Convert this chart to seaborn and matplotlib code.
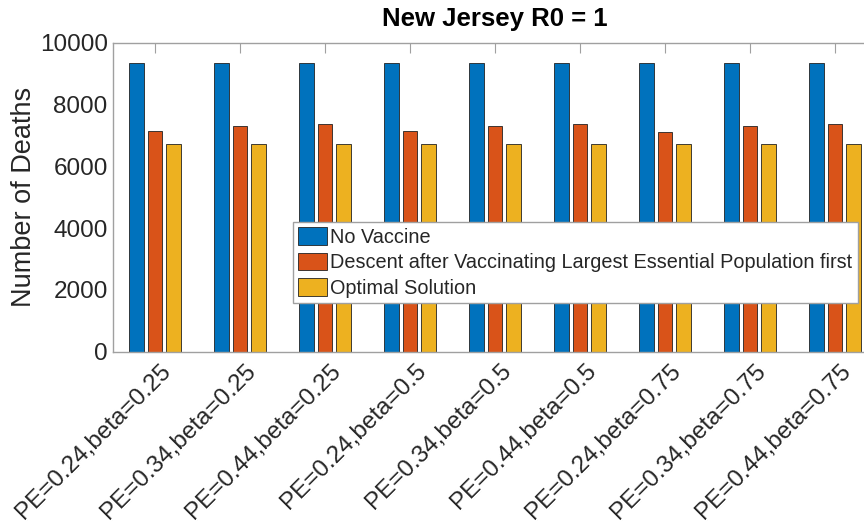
import numpy as np
import matplotlib
matplotlib.use("Agg")
import matplotlib.pyplot as plt
import matplotlib.transforms as mtransforms
import seaborn as sns
import pandas as pd

# scenario labels (x axis)
scenarios = ["PE=0.24,beta=0.25", "PE=0.34,beta=0.25", "PE=0.44,beta=0.25",
             "PE=0.24,beta=0.5", "PE=0.34,beta=0.5", "PE=0.44,beta=0.5",
             "PE=0.24,beta=0.75", "PE=0.34,beta=0.75", "PE=0.44,beta=0.75"]

series_names = ["No Vaccine",
                "Descent after Vaccinating Largest Essential Population first",
                "Optimal Solution"]

no_vaccine = [9330, 9330, 9330, 9330, 9330, 9330, 9330, 9330, 9330]
descent = [7130, 7300, 7385, 7130, 7300, 7380, 7120, 7290, 7375]
optimal = [6730, 6730, 6730, 6730, 6730, 6730, 6730, 6730, 6730]

colors = ["#0072BD", "#D95319", "#EDB120"]

df = pd.DataFrame({
    "scenario": scenarios * 3,
    "series": [series_names[0]] * 9 + [series_names[1]] * 9 + [series_names[2]] * 9,
    "deaths": no_vaccine + descent + optimal,
})

sns.set_style("white")
plt.rcParams['font.family'] = ['Liberation Sans', 'DejaVu Sans']

fig = plt.figure(figsize=(8.64, 5.29), dpi=100)
# axes runs a little past the right edge, like the cropped original
ax = fig.add_axes([112.5 / 864, 1 - 351.7 / 529, 765 / 864, 309 / 529])

sns.barplot(data=df, x="scenario", y="deaths", hue="series", palette=colors,
            width=0.66, gap=0.2, edgecolor="#222222", linewidth=0.6,
            saturation=1, ax=ax, errorbar=None)

ax.set_xlim(-0.5, 8.5)
ax.set_ylim(0, 10000)
ax.set_yticks([0, 2000, 4000, 6000, 8000, 10000])
ax.set_xlabel("")
ax.set_ylabel("Number of Deaths", fontsize=19.5, color="#262626", labelpad=2)
ax.set_title("New Jersey R0 = 1", fontsize=18.5, fontweight="bold", pad=12,
             color="black")

axis_grey = "#a0a0a0"
for s in ax.spines.values():
    s.set_visible(True)
    s.set_color(axis_grey)
    s.set_linewidth(1.0)
ax.tick_params(axis="both", direction="in", length=7, color=axis_grey,
               labelcolor="#262626", top=True, right=True)
ax.tick_params(axis="y", labelsize=17.5)
ax.tick_params(axis="x", labelsize=17.5, pad=6)
shift = mtransforms.ScaledTranslation(5 / 100, 0, fig.dpi_scale_trans)
for lab in ax.get_xticklabels():
    lab.set_rotation(45)
    lab.set_ha("right")
    lab.set_rotation_mode("anchor")
    lab.set_transform(lab.get_transform() + shift)

handles, labels = ax.get_legend_handles_labels()
ax.legend(handles, labels, loc="upper left",
          bbox_to_anchor=(292.7 / 864, 1 - 222 / 529),
          bbox_transform=fig.transFigure, fontsize=14.3, frameon=True,
          fancybox=False, framealpha=1, edgecolor=axis_grey,
          handlelength=1.5, handleheight=1.0, handletextpad=0.15,
          labelspacing=0.3, borderpad=0.25, borderaxespad=0)

fig.savefig("out.png", dpi=100)
